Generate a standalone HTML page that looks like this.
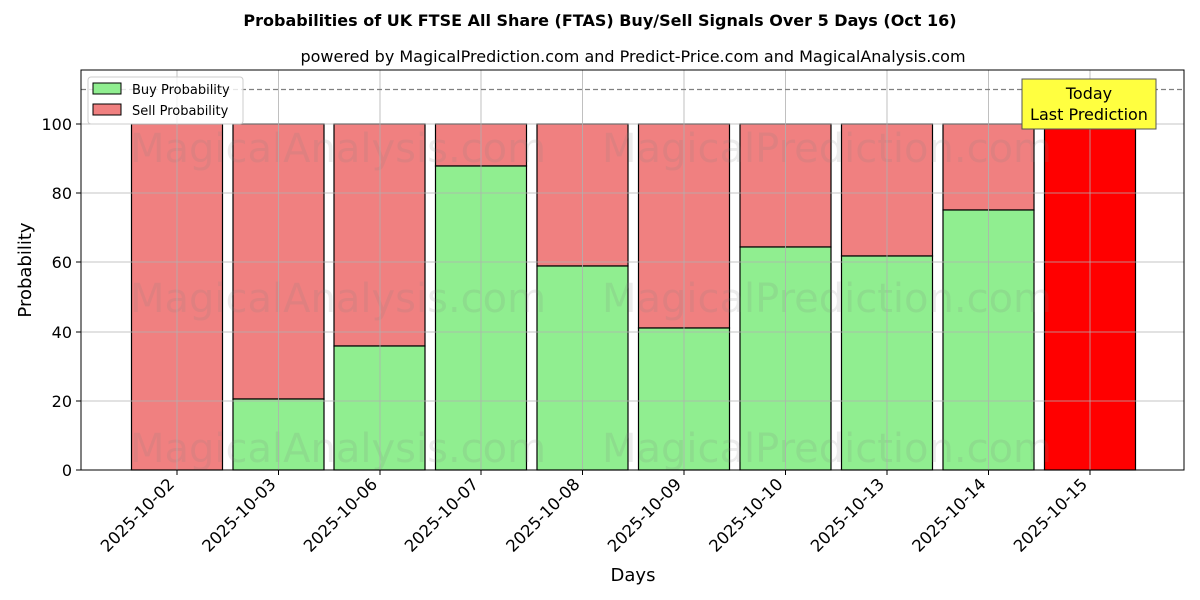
<!DOCTYPE html>
<html><head><meta charset="utf-8"><style>body{margin:0;background:#fff}svg{display:block}text{font-family:"DejaVu Sans","Liberation Sans",sans-serif}</style></head>
<body>
<svg width="1200" height="600" xmlns="http://www.w3.org/2000/svg">
<rect width="1200" height="600" fill="#fff"/>
<text x="600" y="26" text-anchor="middle" font-size="16" font-weight="bold">Probabilities of UK FTSE All Share (FTAS) Buy/Sell Signals Over 5 Days (Oct 16)</text>
<text x="633" y="62" text-anchor="middle" font-size="16">powered by MagicalPrediction.com and Predict-Price.com and MagicalAnalysis.com</text>
<g id="bars" stroke="#000" stroke-width="1.2">
<rect x="131.5" y="124" width="91" height="346" fill="#f08080"/>
<rect x="233" y="124" width="91" height="275" fill="#f08080"/><rect x="233" y="399" width="91" height="71" fill="#90ee90"/>
<rect x="334" y="124" width="91" height="222" fill="#f08080"/><rect x="334" y="346" width="91" height="124" fill="#90ee90"/>
<rect x="435.5" y="124" width="91" height="42" fill="#f08080"/><rect x="435.5" y="166" width="91" height="304" fill="#90ee90"/>
<rect x="537" y="124" width="91" height="142" fill="#f08080"/><rect x="537" y="266" width="91" height="204" fill="#90ee90"/>
<rect x="638.5" y="124" width="91" height="204" fill="#f08080"/><rect x="638.5" y="328" width="91" height="142" fill="#90ee90"/>
<rect x="740" y="124" width="91" height="123" fill="#f08080"/><rect x="740" y="247" width="91" height="223" fill="#90ee90"/>
<rect x="841.5" y="124" width="91" height="132" fill="#f08080"/><rect x="841.5" y="256" width="91" height="214" fill="#90ee90"/>
<rect x="943" y="124" width="91" height="86" fill="#f08080"/><rect x="943" y="210" width="91" height="260" fill="#90ee90"/>
<rect x="1044.5" y="124" width="91" height="346" fill="#ff0000"/>
</g>
<g font-size="40" fill="#808080" fill-opacity="0.15">
<text x="130" y="162">MagicalAnalysis.com</text><text x="602" y="162">MagicalPrediction.com</text>
<text x="130" y="312">MagicalAnalysis.com</text><text x="602" y="312">MagicalPrediction.com</text>
<text x="130" y="462">MagicalAnalysis.com</text><text x="602" y="462">MagicalPrediction.com</text>
</g>
<g stroke="#b0b0b0" stroke-width="0.8">
<line x1="81" x2="1184" y1="401" y2="401"/><line x1="81" x2="1184" y1="332" y2="332"/><line x1="81" x2="1184" y1="262" y2="262"/><line x1="81" x2="1184" y1="193" y2="193"/><line x1="81" x2="1184" y1="124" y2="124"/>
<line x1="177" x2="177" y1="70" y2="470"/><line x1="278.5" x2="278.5" y1="70" y2="470"/><line x1="380" x2="380" y1="70" y2="470"/><line x1="481" x2="481" y1="70" y2="470"/><line x1="582.5" x2="582.5" y1="70" y2="470"/><line x1="684" x2="684" y1="70" y2="470"/><line x1="785.5" x2="785.5" y1="70" y2="470"/><line x1="887" x2="887" y1="70" y2="470"/><line x1="988.5" x2="988.5" y1="70" y2="470"/><line x1="1090" x2="1090" y1="70" y2="470"/>
</g>
<line x1="81" x2="1184" y1="89.5" y2="89.5" stroke="#808080" stroke-width="1.2" stroke-dasharray="5,3"/>
<rect x="81" y="70" width="1103" height="400" fill="none" stroke="#000" stroke-width="1"/>
<g stroke="#000"><line x1="76" x2="81" y1="470" y2="470"/><line x1="76" x2="81" y1="401" y2="401"/><line x1="76" x2="81" y1="332" y2="332"/><line x1="76" x2="81" y1="262" y2="262"/><line x1="76" x2="81" y1="193" y2="193"/><line x1="76" x2="81" y1="124" y2="124"/></g>
<g font-size="16" text-anchor="end"><text x="72" y="476">0</text><text x="72" y="407">20</text><text x="72" y="338">40</text><text x="72" y="268">60</text><text x="72" y="199">80</text><text x="72" y="130">100</text></g>
<g font-size="16.5" text-anchor="end">
<text transform="translate(171,481) rotate(-45)" x="0" y="6">2025-10-02</text>
<text transform="translate(272.5,481) rotate(-45)" x="0" y="6">2025-10-03</text>
<text transform="translate(374,481) rotate(-45)" x="0" y="6">2025-10-06</text>
<text transform="translate(475,481) rotate(-45)" x="0" y="6">2025-10-07</text>
<text transform="translate(576.5,481) rotate(-45)" x="0" y="6">2025-10-08</text>
<text transform="translate(678,481) rotate(-45)" x="0" y="6">2025-10-09</text>
<text transform="translate(779.5,481) rotate(-45)" x="0" y="6">2025-10-10</text>
<text transform="translate(881,481) rotate(-45)" x="0" y="6">2025-10-13</text>
<text transform="translate(982.5,481) rotate(-45)" x="0" y="6">2025-10-14</text>
<text transform="translate(1084,481) rotate(-45)" x="0" y="6">2025-10-15</text>
</g>
<g stroke="#000"><line x1="177" x2="177" y1="470" y2="475"/><line x1="278.5" x2="278.5" y1="470" y2="475"/><line x1="380" x2="380" y1="470" y2="475"/><line x1="481" x2="481" y1="470" y2="475"/><line x1="582.5" x2="582.5" y1="470" y2="475"/><line x1="684" x2="684" y1="470" y2="475"/><line x1="785.5" x2="785.5" y1="470" y2="475"/><line x1="887" x2="887" y1="470" y2="475"/><line x1="988.5" x2="988.5" y1="470" y2="475"/><line x1="1090" x2="1090" y1="470" y2="475"/></g>
<text x="633" y="581" text-anchor="middle" font-size="18">Days</text>
<text transform="translate(31,270) rotate(-90)" text-anchor="middle" font-size="18">Probability</text>
<rect x="1022" y="79" width="134" height="50" fill="#ffff40" stroke="#555" stroke-width="1"/>
<text x="1089" y="99" text-anchor="middle" font-size="16">Today</text>
<text x="1089" y="120" text-anchor="middle" font-size="16">Last Prediction</text>
<rect x="88" y="77" width="155" height="47" rx="3" fill="#fff" fill-opacity="0.8" stroke="#ccc"/>
<rect x="93" y="83" width="28" height="11" fill="#90ee90" stroke="#000"/>
<rect x="93" y="104" width="28" height="11" fill="#f08080" stroke="#000"/>
<text x="132" y="94" font-size="13">Buy Probability</text>
<text x="132" y="115" font-size="13">Sell Probability</text>
</svg>
</body></html>
